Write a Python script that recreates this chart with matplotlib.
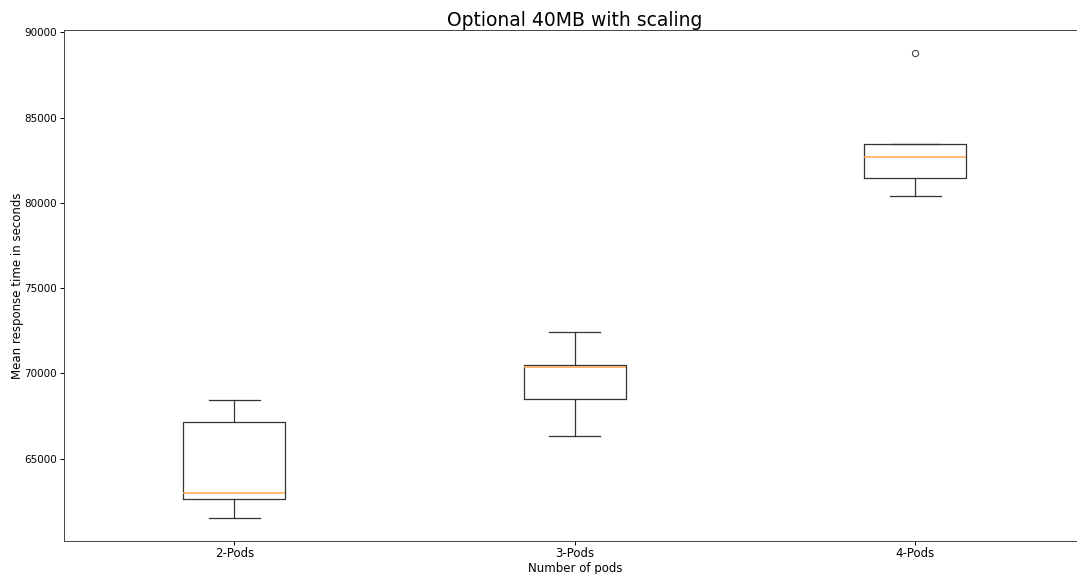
import matplotlib
matplotlib.use("Agg")
import matplotlib.pyplot as plt

labels = ["2-Pods", "3-Pods", "4-Pods"]
pods2 = [61538, 62653, 63005, 67171, 68463]
pods3 = [66350, 68521, 70399, 70516, 72453]
pods4 = [80376, 81432, 82664, 83427, 88768]

fig = plt.figure(figsize=(10.77, 5.74), dpi=100)
# right spine sits just past the edge of the saved image, as in the original
ax = fig.add_axes([64 / 1077, 33 / 574, 1021.5 / 1077, 511 / 574])

lc = "#333333"
lw = 0.9
ax.boxplot([pods2, pods3, pods4], tick_labels=labels,
           boxprops=dict(linewidth=lw, color=lc), whiskerprops=dict(linewidth=lw, color=lc),
           capprops=dict(linewidth=lw, color=lc), medianprops=dict(linewidth=1.1, color="#ffa54a"),
           flierprops=dict(markersize=4.5, markeredgewidth=0.7, markeredgecolor=lc))

ax.set_title("Optional 40MB with scaling", fontsize=13.5, pad=3)
ax.set_xlabel("Number of pods", fontsize=8.5, labelpad=1)
ax.set_ylabel("Mean response time in seconds", fontsize=8.5, labelpad=0.5)
ax.tick_params(axis="x", labelsize=8.5, length=3, width=0.7, pad=1.5)
ax.tick_params(axis="y", labelsize=7.5, length=3, width=0.7, pad=2)
for sp in ax.spines.values():
    sp.set_linewidth(0.7)
    sp.set_color("#444444")

fig.savefig("out.png", dpi=100)
